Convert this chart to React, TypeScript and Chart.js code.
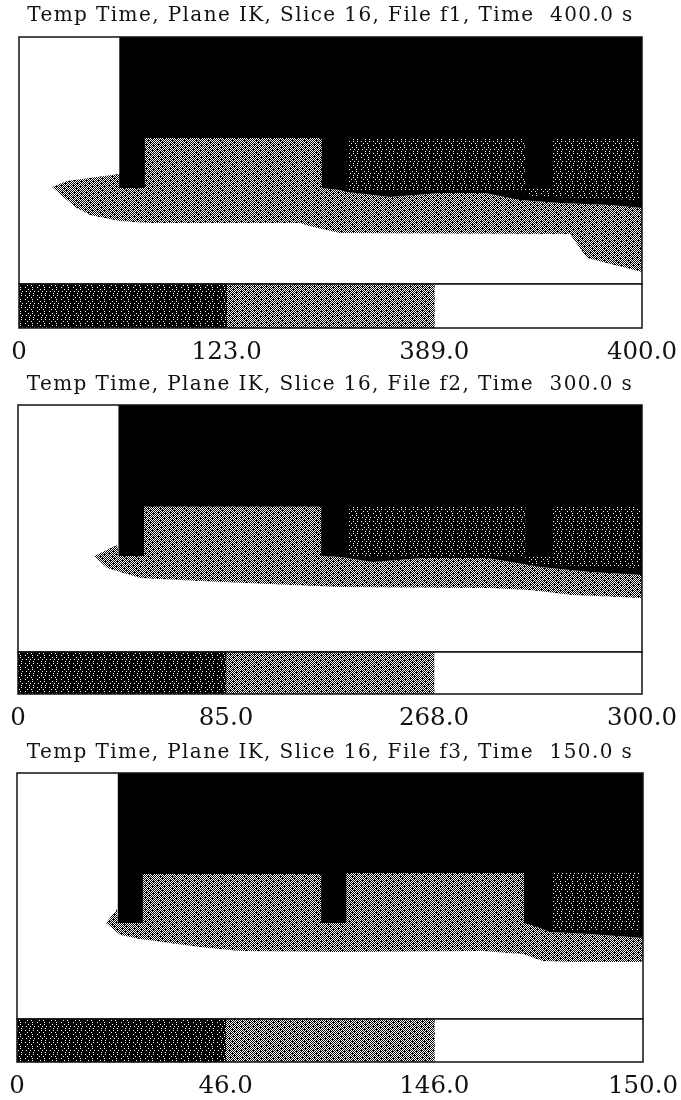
import React, { useEffect, useRef } from "react";
import { Chart, registerables } from "chart.js";

Chart.register(...registerables);

type Pt = [number, number];

const TITLES = [
  "Temp Time, Plane IK, Slice 16, File f1, Time  400.0 s",
  "Temp Time, Plane IK, Slice 16, File f2, Time  300.0 s",
  "Temp Time, Plane IK, Slice 16, File f3, Time  150.0 s",
];
const f1Ticks = ["0", "123.0", "389.0", "400.0"];
const f2Ticks = ["0", "85.0", "268.0", "300.0"];
const f3Ticks = ["0", "46.0", "146.0", "150.0"];
const legendBins = [1, 1, 1];

// Regions of each temperature field, in percent of the plane's width and height.
const f1Hot: Pt[] = [[16.1, 100], [100, 100], [100, 30.8], [94.9, 32], [86.8, 32.8], [80.4, 34], [74.8, 36.8], [67.6, 36.8], [59.6, 35.2], [52.6, 37.2], [51.5, 38.1], [48.6, 38.9], [16.1, 38.9]];
const f1Band: Pt[] = [[5.3, 39.3], [7.7, 41.7], [16.1, 44.5], [48.6, 38.9], [51.5, 38.1], [52.6, 37.2], [59.6, 35.2], [67.6, 36.8], [74.8, 36.8], [80.4, 34], [86.8, 32.8], [94.9, 32], [100, 30.8], [100, 4.9], [91.2, 10.5], [88.4, 20.2], [51.5, 20.6], [47.2, 23.1], [45.1, 24.7], [21, 24.7], [16.2, 25.5], [11.4, 27.9], [9, 31.2]];
const f1Mid: Pt[][] = [[[20.2, 59.1], [48.6, 59.1], [48.6, 38.9], [20.2, 38.9]]];
const f1Dark: Pt[][] = [[[52.6, 59.1], [81.2, 59.1], [81.2, 38.9], [85.4, 38.9], [85.4, 59.1], [99.5, 59.1], [99.5, 34], [81.2, 35.6], [81.2, 38.1], [52.6, 38.1]]];

const f2Hot: Pt[] = [[16.1, 100], [100, 100], [100, 31.2], [91.7, 32.4], [83.7, 34.4], [75.2, 38.1], [64.9, 38.1], [56.9, 36.4], [51.6, 38.5], [48.6, 38.9], [16.1, 38.9]];
const f2Band: Pt[] = [[12.2, 38.9], [15.9, 43.3], [16.1, 38.9], [48.6, 38.9], [51.6, 38.5], [56.9, 36.4], [64.9, 38.1], [75.2, 38.1], [83.7, 34.4], [91.7, 32.4], [100, 31.2], [100, 21.9], [88.9, 23.1], [82.1, 25.1], [75.6, 25.9], [51.6, 26.3], [29.2, 28.7], [19.6, 30], [14.3, 34]];
const f2Mid: Pt[][] = [[[20.2, 58.9], [48.6, 58.9], [48.6, 38.9], [20.2, 38.9]]];
const f2Dark: Pt[][] = [[[52.7, 58.9], [81.3, 58.9], [81.3, 38.9], [85.4, 38.9], [85.4, 58.9], [99.7, 58.9], [99.7, 34], [81.3, 35.6], [81.3, 38.9], [52.7, 38.9]]];

const f3Hot: Pt[] = [[16.1, 100], [100, 100], [100, 32.9], [91.5, 34.6], [85.1, 35.4], [83.1, 37.4], [81, 39], [16.1, 39]];
const f3Band: Pt[] = [[14.2, 39], [16, 44.7], [16.1, 39], [81, 39], [83.1, 37.4], [85.1, 35.4], [91.5, 34.6], [100, 32.9], [100, 23.2], [88.8, 23.2], [84, 23.6], [80.8, 26.4], [74.4, 27.6], [51.6, 27.2], [35.6, 27.6], [29.2, 29.3], [19.6, 32.5], [16.5, 34.1]];
const f3Mid: Pt[][] = [
  [[20.1, 58.9], [48.6, 58.9], [48.6, 39], [20.1, 39]],
  [[52.6, 59.3], [81, 59.3], [81, 39], [52.6, 39]],
];
const f3Dark: Pt[][] = [[[85.3, 59.8], [99.4, 59.8], [99.4, 36.2], [85.3, 36.2]]];

const PANELS = [
  { title: TITLES[0], ticks: f1Ticks, hot: f1Hot, band: f1Band, mid: f1Mid, dark: f1Dark, left: 19, right: 642, top: 37, bottom: 284, barBottom: 328, titleY: 16 },
  { title: TITLES[1], ticks: f2Ticks, hot: f2Hot, band: f2Band, mid: f2Mid, dark: f2Dark, left: 18, right: 642, top: 405, bottom: 652, barBottom: 694, titleY: 385 },
  { title: TITLES[2], ticks: f3Ticks, hot: f3Hot, band: f3Band, mid: f3Mid, dark: f3Dark, left: 17, right: 643, top: 773, bottom: 1019, barBottom: 1062, titleY: 753 },
];

const FONT = "'DejaVu Serif', serif";
const TITLE_SIZE = 20;
const TICK_SIZE = 24.5;
const AXIS_H = 42;

function makeTile(rows: string[]): CanvasPattern {
  const c = document.createElement("canvas");
  c.width = rows[0].length;
  c.height = rows.length;
  const ctx = c.getContext("2d")!;
  ctx.fillStyle = "#fff";
  ctx.fillRect(0, 0, c.width, c.height);
  ctx.fillStyle = "#000";
  rows.forEach((r, y) => [...r].forEach((ch, x) => { if (ch === "#") ctx.fillRect(x, y, 1, 1); }));
  return ctx.createPattern(c, "repeat")!;
}

const frame = {
  id: "frame",
  afterDraw(chart: any) {
    const { ctx, chartArea: a } = chart;
    ctx.save();
    ctx.strokeStyle = "#111";
    ctx.lineWidth = 1.5;
    ctx.strokeRect(a.left, a.top, a.right - a.left, a.bottom - a.top);
    ctx.restore();
  },
};

const spacedTitle = {
  id: "spacedTitle",
  beforeDraw(chart: any) {
    chart.ctx.letterSpacing = "1.4px";
  },
};

function Panel({ p, midFill, darkFill }: any) {
  const fieldRef = useRef<HTMLCanvasElement>(null);
  const barRef = useRef<HTMLCanvasElement>(null);

  useEffect(() => {
    const mid = midFill();
    const dark = darkFill();
    const shape = (pts: Pt[], fill: any) => ({
      data: pts.map(([x, y]) => ({ x, y })),
      showLine: true,
      fill: "shape",
      backgroundColor: fill,
      borderWidth: 0,
      pointRadius: 0,
    });
    // Chart.js paints the first dataset on top.
    const datasets = [
      ...p.dark.map((s: Pt[]) => shape(s, dark)),
      ...p.mid.map((s: Pt[]) => shape(s, mid)),
      shape(p.hot, "#000"),
      shape(p.band, mid),
    ];
    const titleTop = p.titleY - TITLE_SIZE / 2;
    const field = new Chart(fieldRef.current!, {
      type: "scatter",
      data: { datasets },
      plugins: [frame, spacedTitle],
      options: {
        animation: false,
        responsive: false,
        devicePixelRatio: 1,
        layout: { padding: { left: p.left, right: 681 - p.right, top: 0, bottom: 2 } },
        events: [],
        scales: {
          x: { type: "linear", min: 0, max: 100, display: false },
          y: { type: "linear", min: 0, max: 100, display: false },
        },
        plugins: {
          legend: { display: false },
          tooltip: { enabled: false },
          title: {
            display: true,
            text: p.title,
            fullSize: false,
            color: "#111",
            font: { family: FONT, size: TITLE_SIZE, weight: "normal", lineHeight: 1 },
            padding: { top: titleTop - (p.top - 40), bottom: p.top - titleTop - TITLE_SIZE },
          },
        },
      } as any,
    } as any);

    const bar = new Chart(barRef.current!, {
      type: "bar",
      data: {
        labels: ["scale"],
        datasets: [
          { data: [legendBins[0]], backgroundColor: dark, borderWidth: 0 },
          { data: [legendBins[1]], backgroundColor: mid, borderWidth: 0 },
          { data: [legendBins[2]], backgroundColor: "#fff", borderWidth: 0 },
        ],
      },
      plugins: [frame],
      options: {
        animation: false,
        responsive: false,
        devicePixelRatio: 1,
        indexAxis: "y",
        events: [],
        layout: { padding: { left: p.left, right: 681 - p.right, top: 1, bottom: 0 } },
        datasets: { bar: { categoryPercentage: 1, barPercentage: 1 } },
        scales: {
          y: { stacked: true, display: false },
          x: {
            stacked: true,
            min: 0,
            max: 3,
            grid: { display: false, drawTicks: false },
            border: { display: false },
            afterFit(s: any) {
              s.paddingLeft = 0;
              s.paddingRight = 0;
              s.height = AXIS_H;
            },
            ticks: {
              stepSize: 1,
              autoSkip: false,
              maxRotation: 0,
              padding: 12,
              color: "#111",
              font: { family: FONT, size: TICK_SIZE, weight: "normal", lineHeight: 1 },
              callback: (_v: any, i: number) => p.ticks[i],
            },
          },
        },
        plugins: { legend: { display: false }, tooltip: { enabled: false }, title: { display: false } },
      } as any,
    } as any);

    return () => {
      field.destroy();
      bar.destroy();
    };
  }, []);

  const barTop = p.bottom - 1;
  const barH = p.barBottom - p.bottom + 1 + AXIS_H;
  const s = (top: number, height: number): React.CSSProperties => ({ position: "absolute", left: 0, top, width: 681, height, display: "block" });
  return (
    <>
      <canvas ref={fieldRef} width={681} height={p.bottom + 2 - (p.top - 40)} style={s(p.top - 40, p.bottom + 2 - (p.top - 40))} />
      <canvas ref={barRef} width={681} height={barH} style={s(barTop, barH)} />
    </>
  );
}

const midTile = () =>
  makeTile([
    "#.#.#.#.#.#.",
    ".#.#.###.#.#",
    "#.#.#.#.#.#.",
    ".###.#.#.#.#",
    "#.#.#.#.###.",
    ".#.#.#.#.#.#",
    "#.#.###.#.#.",
    ".#.#.#.#.#.#",
    "###.#.#.#.#.",
    ".#.#.#.###.#",
    "#.#.#.#.#.#.",
    ".#.###.#.#.#",
  ]);
const darkTile = () =>
  makeTile([
    "#.###.###.##",
    "############",
    "###.###.####",
    "############",
    "#.######.###",
    "############",
    "####.###.###",
    "############",
    "##.###.###.#",
    "############",
    "#####.###.##",
    "############",
  ]);

export default function App() {
  return (
    <div style={{ position: "absolute", left: 0, top: 0, width: 681, height: 1100, background: "#fff", overflow: "hidden" }}>
      {PANELS.map((p) => (
        <Panel key={p.title} p={p} midFill={midTile} darkFill={darkTile} />
      ))}
    </div>
  );
}
